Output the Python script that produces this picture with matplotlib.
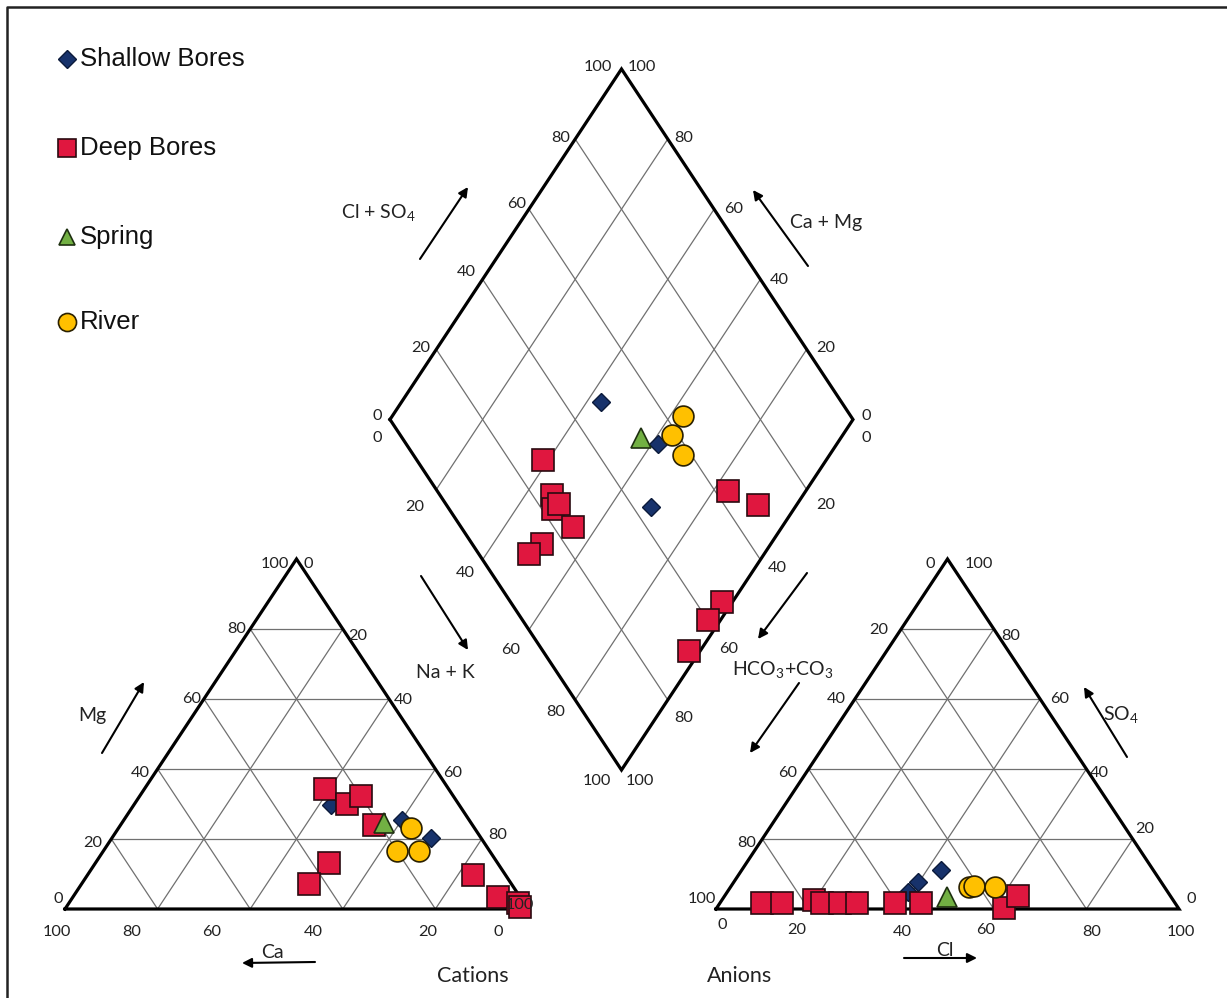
import numpy as np
import matplotlib.pyplot as plt

plt.rcParams['mathtext.fontset'] = 'custom'
plt.rcParams['mathtext.rm'] = 'Lato'

# ---- data (percent of meq) ----
# cation triangle: Na+K and Mg (Ca is the rest)
cat_shallow_na = [42.5, 60.0, 68.8]
cat_shallow_mg = [29.8, 25.5, 20.3]
cat_deep_na = [38.9, 45.8, 47.7, 54.6, 50.5, 49.0, 83.2, 91.8, 97.0, 98.0]
cat_deep_mg = [34.4, 30.1, 32.4, 24.1, 13.2, 7.2, 9.7, 3.4, 1.7, 0.6]
cat_spring_na = [56.7]
cat_spring_mg = [24.6]
cat_river_na = [63.1, 63.3, 68.1]
cat_river_mg = [23.2, 16.6, 16.6]

# anion triangle: Cl and SO4 (HCO3+CO3 is the rest)
an_shallow_cl = [42.9, 39.8, 39.1]
an_shallow_so4 = [11.2, 7.7, 4.9]
an_deep_cl = [9.0, 13.4, 19.8, 22.0, 26.0, 29.5, 37.9, 43.5, 62.1, 63.4]
an_deep_so4 = [1.7, 1.7, 2.6, 1.7, 1.7, 1.7, 1.7, 1.7, 0.2, 3.7]
an_spring_cl = [48.1]
an_spring_so4 = [3.4]
an_river_cl = [51.6, 52.5, 57.2]
an_river_so4 = [6.3, 6.6, 6.3]

# diamond: Cl+SO4 and Na+K
dia_shallow_an = [48.0, 54.4, 43.8]
dia_shallow_cat = [43.0, 61.5, 68.8]
dia_deep_an = [27.4, 24.2, 22.6, 24.4, 24.1, 15.1, 10.8, 62.7, 67.3, 45.6, 40.2, 31.6]
dia_deep_cat = [38.9, 45.7, 48.0, 48.4, 54.8, 50.5, 49.1, 83.1, 91.7, 97.6, 97.3, 97.6]
dia_spring_an = [51.5]
dia_spring_cat = [56.8]
dia_river_an = [63.8, 58.8, 58.2]
dia_river_cat = [62.9, 63.2, 68.2]

ticks = [0, 20, 40, 60, 80, 100]

# ---- geometry (pixel space) ----
TW, TH = 463.0, 350.0
LX0, RX0, TY0 = 65.0, 716.0, 909.0
DL = (390.0, 419.5)
DW, DH = 231.5, 350.5


def cat_xy(na, mg):
    na, mg = np.asarray(na, float), np.asarray(mg, float)
    return LX0 + (na + mg / 2) / 100 * TW, TY0 - mg / 100 * TH


def an_xy(cl, so4):
    cl, so4 = np.asarray(cl, float), np.asarray(so4, float)
    return RX0 + (cl + so4 / 2) / 100 * TW, TY0 - so4 / 100 * TH


def dia_xy(an, cat):
    an, cat = np.asarray(an, float), np.asarray(cat, float)
    return DL[0] + (an + cat) / 100 * DW, DL[1] + (cat - an) / 100 * DH


fig = plt.figure(figsize=(12.27, 9.98), dpi=100)
ax = fig.add_axes([0, 0, 1, 1])
ax.set_xlim(0, 1227)
ax.set_ylim(998, 0)
ax.axis('off')

gc, glw = '#707070', 0.9


def seg(f, p, q, **kw):
    x, y = f([p[0], q[0]], [p[1], q[1]])
    ax.plot(x, y, **kw)


# triangles
for f in (cat_xy, an_xy):
    for k in ticks[1:-1]:
        seg(f, (0, k), (100 - k, k), color=gc, lw=glw)
        seg(f, (k, 0), (k, 100 - k), color=gc, lw=glw)
        seg(f, (100 - k, 0), (0, 100 - k), color=gc, lw=glw)
    x, y = f([0, 100, 0, 0], [0, 0, 100, 0])
    ax.plot(x, y, color='black', lw=2.3, solid_joinstyle='miter')

# diamond
for k in ticks[1:-1]:
    seg(dia_xy, (k, 0), (k, 100), color=gc, lw=glw)
    seg(dia_xy, (0, k), (100, k), color=gc, lw=glw)
x, y = dia_xy([0, 100, 100, 0, 0], [0, 0, 100, 100, 0])
ax.plot(x, y, color='black', lw=2.3, solid_joinstyle='miter')

# ---- markers ----
styles = {
    'shallow': dict(marker='D', ms=9.5, mfc='#17326B', mec='#0B1A3A', mew=1.0),
    'deep': dict(marker='s', ms=15.5, mfc='#E0173F', mec='#2A0A10', mew=1.2),
    'spring': dict(marker='^', ms=14.5, mfc='#72B043', mec='#1E3010', mew=1.2),
    'river': dict(marker='o', ms=15.0, mfc='#FFC000', mec='#2A2000', mew=1.2),
}
sets = [
    (cat_xy, cat_shallow_na, cat_shallow_mg, cat_deep_na, cat_deep_mg,
     cat_spring_na, cat_spring_mg, cat_river_na, cat_river_mg),
    (an_xy, an_shallow_cl, an_shallow_so4, an_deep_cl, an_deep_so4,
     an_spring_cl, an_spring_so4, an_river_cl, an_river_so4),
    (dia_xy, dia_shallow_an, dia_shallow_cat, dia_deep_an, dia_deep_cat,
     dia_spring_an, dia_spring_cat, dia_river_an, dia_river_cat),
]
for f, sa, sb, da, db, pa, pb, ra, rb in sets:
    for key, a, b in (('shallow', sa, sb), ('deep', da, db),
                      ('spring', pa, pb), ('river', ra, rb)):
        x, y = f(a, b)
        ax.plot(x, y, ls='none', **styles[key])

# ---- tick labels ----
tf = dict(family='Lato', fontsize=11.8, color='#222222', ha='center', va='center')
lab_pos = {
    'cat_bottom': [(498, 932), (428, 932), (313, 932), (212, 932), (132, 932), (57, 932)],
    'cat_left': [(58, 899), (93, 843), (140, 773), (192, 699), (237, 629), (275, 564)],
    'cat_right': [(308, 564), (358, 636), (403, 700), (453, 773), (498, 835), (520, 905)],
    'an_bottom': [(722, 925), (797, 930), (902, 932), (986, 930), (1092, 932), (1181, 932)],
    'an_left': [(930, 564), (879, 630), (836, 699), (788, 773), (747, 843), (702, 899)],
    'an_right': [(1191, 899), (1145, 829), (1099, 773), (1060, 699), (1011, 636), (979, 564)],
    'd_ul': [(377, 416), (421, 348), (466, 272), (517, 204), (561, 138), (598, 67)],
    'd_ur': [(866, 416), (826, 348), (779, 280), (734, 209), (684, 138), (642, 67)],
    'd_ll': [(377, 438), (415, 507), (465, 573), (511, 650), (556, 712), (597, 781)],
    'd_lr': [(866, 438), (826, 505), (777, 568), (729, 649), (684, 718), (640, 781)],
}
for pts in lab_pos.values():
    for t, (px, py) in zip(ticks, pts):
        ax.text(px, py, str(t), **tf)

# ---- axis names and arrows ----
nf = dict(family='Lato', fontsize=14, color='#222222', ha='center', va='center')
arrows = [((420, 259), (468, 187)), ((808, 266), (753, 190)),
          ((421, 576), (468, 650)), ((807, 573), (758, 639)),
          ((799, 683), (750, 753)), ((1127, 757), (1084, 687)),
          ((904, 958), (977, 958)), ((102, 753), (144, 682)),
          ((315, 962), (242, 963))]
for tail, head in arrows:
    ax.annotate('', xy=head, xytext=tail,
                arrowprops=dict(arrowstyle='-|>', color='black', lw=1.5,
                                mutation_scale=14, shrinkA=0, shrinkB=0))

ax.text(378, 213, r'Cl + SO$_\mathregular{4}$', **nf)
ax.text(826, 222, 'Ca + Mg', **nf)
ax.text(445, 673, 'Na + K', **nf)
ax.text(783, 670, r'HCO$_\mathregular{3}$+CO$_\mathregular{3}$', **nf)
ax.text(1121, 715, r'SO$_\mathregular{4}$', **nf)
ax.text(945, 950, 'Cl', **nf)
ax.text(92, 715, 'Mg', **nf)
ax.text(272, 952, 'Ca', **nf)
ax.text(473, 976, 'Cations', family='Lato', fontsize=15.5, color='#222222', ha='center', va='center')
ax.text(740, 976, 'Anions', family='Lato', fontsize=15.5, color='#222222', ha='center', va='center')

# ---- legend ----
leg_names = ['Shallow Bores', 'Deep Bores', 'Spring', 'River']
leg_keys = ['shallow', 'deep', 'spring', 'river']
leg_y = [59, 148, 237, 322]
leg_ms = {'shallow': 9.0, 'deep': 13.0, 'spring': 12.0, 'river': 13.0}
for name, key, ly in zip(leg_names, leg_keys, leg_y):
    st = dict(styles[key])
    st['ms'] = leg_ms[key]
    ax.plot([67], [ly], ls='none', **st)
    ax.text(80, ly, name, family='Liberation Sans', fontsize=18.5,
            color='#111111', ha='left', va='center')

# outer frame (only the left and top edges fall inside the picture)
ax.plot([7, 7, 1240], [1010, 7, 7], color='#222222', lw=1.8, clip_on=False)

fig.savefig('out.png', dpi=100)
